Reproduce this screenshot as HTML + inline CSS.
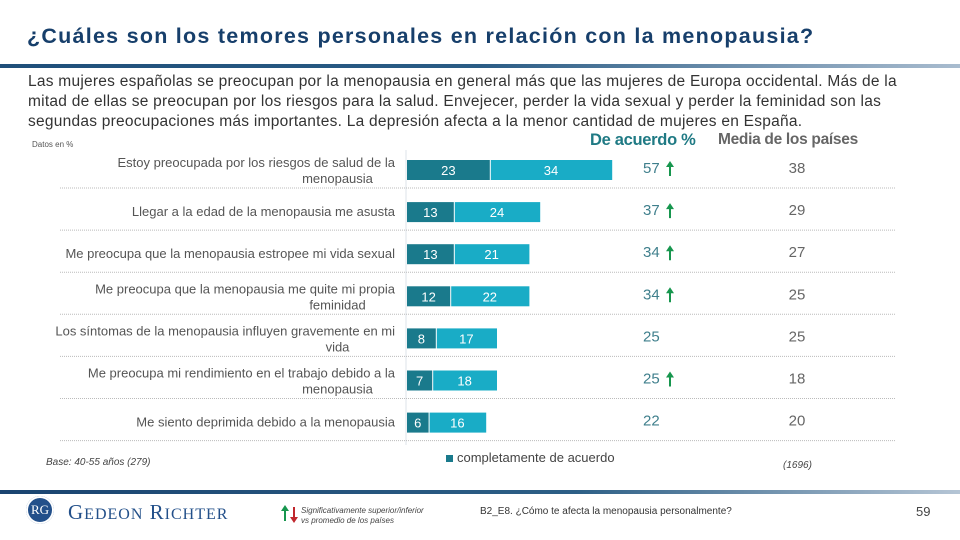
<!DOCTYPE html>
<html><head><meta charset="utf-8"><style>
body{margin:0;width:960px;height:540px;overflow:hidden;background:#fff;font-family:"Liberation Sans",sans-serif;position:relative}
.a{position:absolute;white-space:nowrap}
</style></head><body>
<div class="a" style="left:27px;top:24px;font-size:21.5px;font-weight:bold;color:#173f6b;letter-spacing:1.25px">¿Cuáles son los temores personales en relación con la menopausia?</div>
<div class="a" style="left:0;top:64px;width:960px;height:4px;background:linear-gradient(90deg,#1f4f7a 0%,#2a5c85 50%,#a9bccf 100%)"></div>
<div class="a" style="left:28px;top:72px;font-size:15.5px;line-height:20px;color:#333;letter-spacing:0.25px">Las mujeres españolas se preocupan por la menopausia en general más que las mujeres de Europa occidental. Más de la<br>mitad de ellas se preocupan por los riesgos para la salud. Envejecer, perder la vida sexual y perder la feminidad son las<br>segundas preocupaciones más importantes. La depresión afecta a la menor cantidad de mujeres en España.</div>
<div class="a" style="left:32px;top:140px;font-size:8px;color:#555">Datos en %</div>
<div class="a" style="left:590px;top:131px;font-size:16.5px;font-weight:bold;color:#1f7a84;letter-spacing:-0.3px">De acuerdo %</div>
<div class="a" style="left:718px;top:131px;font-size:15.5px;font-weight:bold;color:#666;letter-spacing:-0.3px">Media de los países</div>
<svg id="chart" class="a" style="left:0;top:0" width="960" height="540"></svg>
<div class="a" style="left:46px;top:457px;font-size:10px;font-style:italic;color:#444">Base: 40-55 años (279)</div>
<div class="a" style="left:446px;top:450px;font-size:13px;color:#444"><span style="display:inline-block;width:7px;height:7px;background:#1a7a8c;margin-right:4px"></span>completamente de acuerdo</div>
<div class="a" style="left:783px;top:460px;font-size:10px;font-style:italic;color:#444">(1696)</div>
<div class="a" style="left:0;top:490px;width:960px;height:4px;background:linear-gradient(90deg,#1a4470 0%,#2d5f86 60%,#b5c5d5 100%)"></div>
<div class="a" style="left:26px;top:496px;width:28px;height:28px;border-radius:50%;background:#23508a;color:#fff;font-size:13px;font-family:'Liberation Serif',serif;text-align:center;line-height:28px;box-shadow:0 0 0 2px #fff inset">RG</div>
<div class="a" style="left:68px;top:500px;font-size:21px;font-family:'Liberation Serif',serif;color:#23508a;letter-spacing:1px">G<span style="font-size:16px">EDEON</span> R<span style="font-size:16px">ICHTER</span></div>
<svg class="a" style="left:281px;top:505px" width="18" height="18"><path d="M4 0 l-4 6 h3 v10 h2 v-10 h3 z" fill="#17964e"/><path d="M13 18 l-4 -6 h3 v-10 h2 v10 h3 z" fill="#c0272d"/></svg>
<div class="a" style="left:301px;top:506px;font-size:8px;font-style:italic;color:#444;line-height:10px">Significativamente superior/inferior<br>vs promedio de los países</div>
<div class="a" style="left:480px;top:506px;font-size:10px;color:#333">B2_E8. ¿Cómo te afecta la menopausia personalmente?</div>
<div class="a" style="left:916px;top:504px;font-size:13px;color:#444">59</div>
<script>
const categories=["Estoy preocupada por los riesgos de salud de la|menopausia","Llegar a la edad de la menopausia me asusta","Me preocupa que la menopausia estropee mi vida sexual","Me preocupa que la menopausia me quite mi propia|feminidad","Los síntomas de la menopausia influyen gravemente en mi|vida","Me preocupa mi rendimiento en el trabajo debido a la|menopausia","Me siento deprimida debido a la menopausia"];
const completely=[23,13,13,12,8,7,6];
const somewhat=[34,24,21,22,17,18,16];
const totals=[57,37,34,34,25,25,22];
const significant=[true,true,true,true,false,true,false];
const averages=[38,29,27,25,25,18,20];
const svg=document.getElementById('chart');const NS='http://www.w3.org/2000/svg';
const x0=407,k=3.6,rowY=i=>170+i*42.1,bh=20;
const xs=v=>x0+v*k;
function mk(t,a,p){const e=document.createElementNS(NS,t);for(const q in a)e.setAttribute(q,a[q]);(p||svg).appendChild(e);return e;}
const ax=mk('line',{x1:x0-1,x2:x0-1,y1:150,y2:445,stroke:'#dde3e8'});


categories.forEach((c,i)=>{
 const y=rowY(i);
 const sep=mk('line',{x1:60,x2:895,y1:y+18,y2:y+18,stroke:'#bbb','stroke-dasharray':'1,1'});
 
 
 const parts=c.split('|');
 parts.forEach((p,j)=>{
  const t=mk('text',{x:parts.length>1&&j==1?(395+60)/2+110:395,y:y+(parts.length>1?(j?13:-3):4),'font-size':13,fill:'#555','text-anchor':parts.length>1&&j==1?'middle':'end','font-family':'Liberation Sans,sans-serif'});
  t.textContent=p;
  
  
 });
 const b1=mk('rect',{x:xs(0),y:y-bh/2,width:xs(completely[i])-xs(0),height:bh,fill:'#1a7a8c'});
 
 
 const b2=mk('rect',{x:xs(completely[i])+1,y:y-bh/2,width:xs(completely[i]+somewhat[i])-xs(completely[i])-1,height:bh,fill:'#19acc6'});
 
 
 const l1=mk('text',{x:(xs(0)+xs(completely[i]))/2,y:y+5,'font-size':13,fill:'#fff','text-anchor':'middle','font-family':'Liberation Sans,sans-serif'});
 l1.textContent=completely[i];
 
 
 const l2=mk('text',{x:(xs(completely[i])+xs(completely[i]+somewhat[i]))/2,y:y+5,'font-size':13,fill:'#fff','text-anchor':'middle','font-family':'Liberation Sans,sans-serif'});
 l2.textContent=somewhat[i];
 
 
 const tt=mk('text',{x:643,y:y+3,'font-size':15,fill:'#3f7f8c','font-family':'Liberation Sans,sans-serif'});
 tt.textContent=totals[i];
 
 
 if(significant[i]){
  const ar=mk('path',{d:`M${670} ${y-9} l-4 6 h3 v9 h2 v-9 h3 z`,fill:'#17964e'});
  
  
 }
 const av=mk('text',{x:797,y:y+3,'font-size':15,fill:'#666','text-anchor':'middle','font-family':'Liberation Sans,sans-serif'});
 av.textContent=averages[i];
 
 
});
</script>
</body></html>
